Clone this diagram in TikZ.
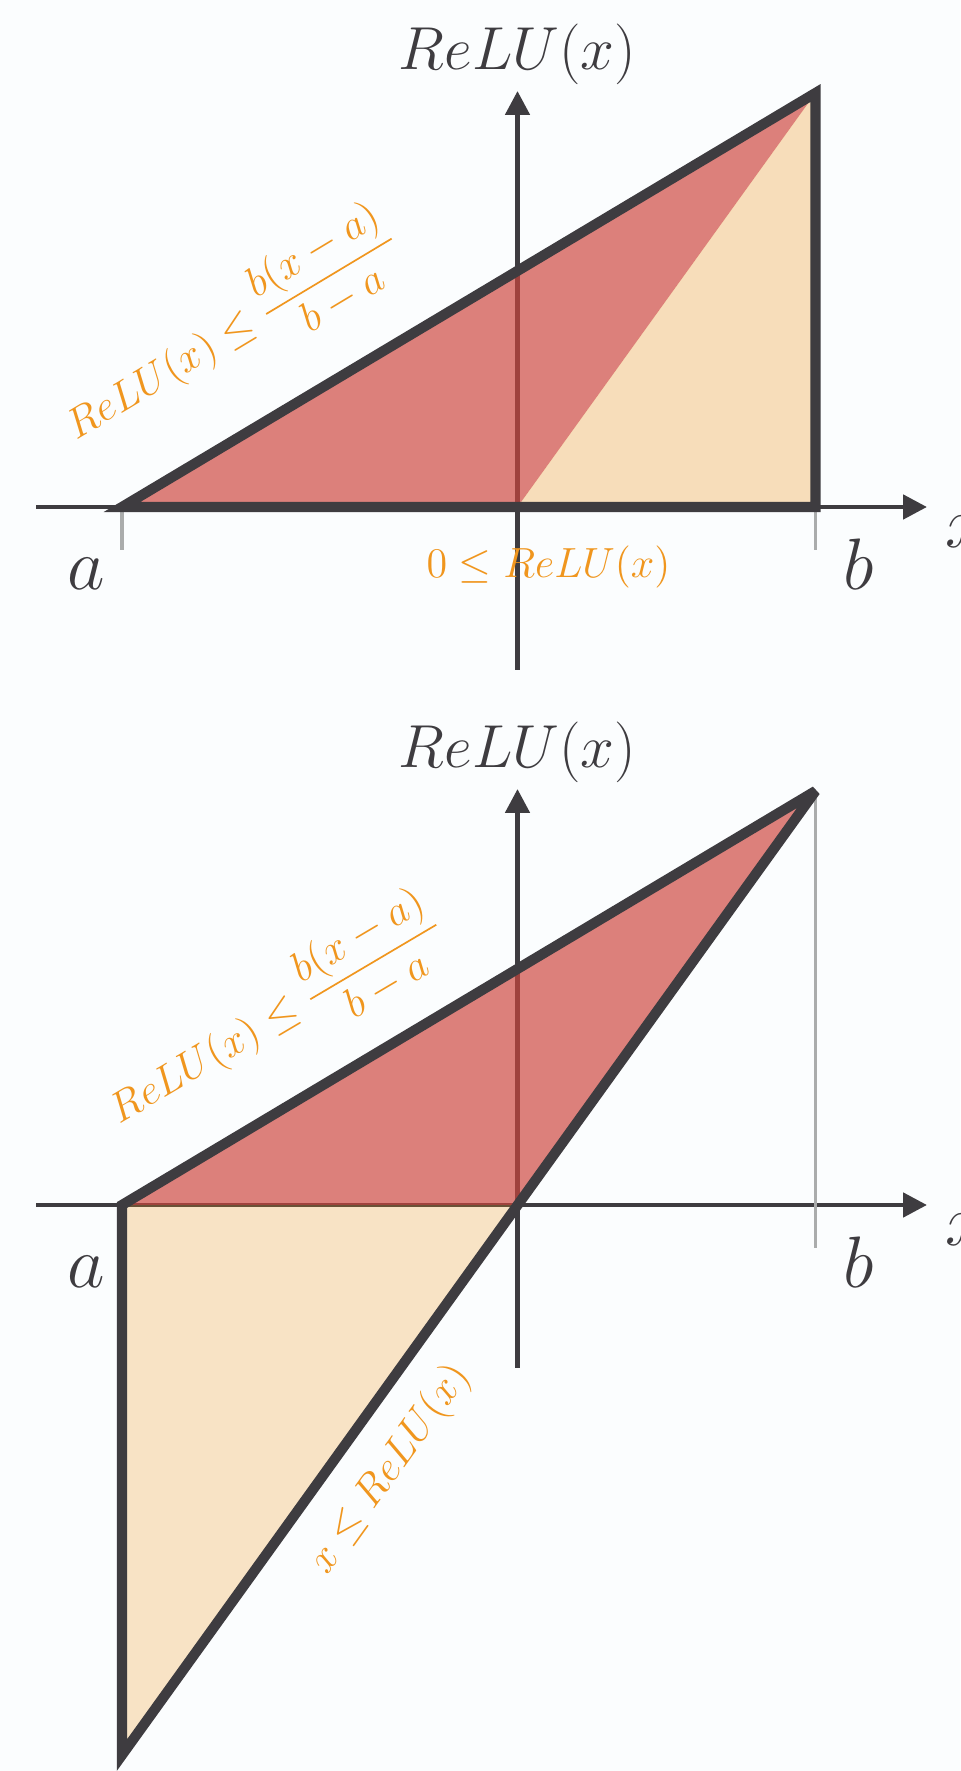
\documentclass[tikz,border=0pt]{standalone}
\usepackage{amsmath}
\usetikzlibrary{arrows.meta,positioning}
\definecolor{axisgray}{RGB}{62,60,64}
\definecolor{boundred}{RGB}{206,69,62}
\definecolor{boundorange}{RGB}{240,150,30}
\definecolor{tickgray}{RGB}{170,172,172}
\definecolor{bgwhite}{RGB}{251,253,254}
\begin{document}
\begin{tikzpicture}[>={Triangle[length=0.24cm,width=0.24cm]}]
	\tikzset{axis line/.style={draw=axisgray,line width=1.4pt},
		bound line/.style={draw=axisgray,line width=2.9pt,line join=miter,miter limit=4},
		tick line/.style={draw=tickgray,line width=0.9pt},
		red area/.style={fill=boundred,fill opacity=0.68},
		orange area/.style={fill=boundorange,fill opacity=0.3},
		bound label/.style={text=boundorange,font=\fontsize{12.3}{14}\selectfont,inner sep=0pt},
		axis label/.style={text=axisgray,font=\fontsize{18}{20}\selectfont,inner sep=0pt},
		end label/.style={text=axisgray,font=\fontsize{20}{22}\selectfont,inner sep=0pt,anchor=base}}
	\def\xa{-3.955}
	\def\xb{2.98}
	\def\hb{4.14}
	\def\da{5.50}
	\def\xmin{-4.815}
	\def\xmax{4.095}
	\def\ymin{-1.63}
	\def\ymax{4.16}
	\fill[bgwhite] (0,0) rectangle (9.6,17.71);
	\useasboundingbox (0,0) rectangle (9.6,17.71);
	% upper panel: x >= 0 case
	\begin{scope}[shift={(5.175,12.64)}]
		\coordinate (O1) at (0,0);
		\coordinate (A1) at (\xa,0);
		\coordinate (B1) at (\xb,0);
		\coordinate (T1) at (\xb,\hb);
		\draw[axis line,->] (\xmin,0)--(\xmax,0) coordinate (xtip1);
		\draw[axis line,->] (0,\ymin)--(0,\ymax) coordinate (ytip1);
		\draw[tick line] (A1)--++(0,-0.43);
		\draw[tick line] (B1)--++(0,-0.43);
		\fill[red area] (A1)--(T1)--(O1)--cycle;
		\fill[orange area] (O1)--(T1)--(B1)--cycle;
		\draw[bound line] (A1)--(T1)--(B1)--cycle;
		\node[axis label,above=0.06cm of ytip1] (relu1) {$ReLU(x)$};
		\node[end label] (alab1) at (-4.315,-0.83) {$a$};
		\node[end label] (blab1) at (3.415,-0.83) {$b$};
		\node[end label,anchor=base west] (xlab1) at (4.275,-0.41) {$x$};
		\node[bound label,rotate=31] (upper1) at (-2.86,1.76) {$ReLU(x)\leq\dfrac{b(x-a)}{b-a}$};
		\node[bound label,anchor=base] (lower1) at (0.31,-0.71) {$0\leq ReLU(x)$};
	\end{scope}
	% lower panel: x <= ReLU(x)
	\begin{scope}[shift={(5.175,5.66)}]
		\coordinate (O2) at (0,0);
		\coordinate (A2) at (\xa,0);
		\coordinate (B2) at (\xb,0);
		\coordinate (T2) at (\xb,\hb);
		\coordinate (D2) at (\xa,-\da);
		\draw[axis line,->] (\xmin,0)--(\xmax,0) coordinate (xtip2);
		\draw[axis line,->] (0,\ymin)--(0,\ymax) coordinate (ytip2);
		\draw[tick line] (T2)--(\xb,-0.43);
		\fill[red area] (A2)--(T2)--(O2)--cycle;
		\fill[orange area,fill opacity=0.25] (A2)--(O2)--(D2)--cycle;
		\draw[bound line] (A2)--(T2)--(D2)--cycle;
		\node[axis label,above=0.06cm of ytip2] (relu2) {$ReLU(x)$};
		\node[end label] (alab2) at (-4.315,-0.83) {$a$};
		\node[end label] (blab2) at (3.415,-0.83) {$b$};
		\node[end label,anchor=base west] (xlab2) at (4.275,-0.41) {$x$};
		\node[bound label,rotate=30.6] (upper2) at (-2.42,1.89) {$ReLU(x)\leq\dfrac{b(x-a)}{b-a}$};
		\node[bound label,rotate=54.3] (lower2) at (-1.27,-2.64) {$x\leq ReLU(x)$};
	\end{scope}
\end{tikzpicture}
\end{document}
